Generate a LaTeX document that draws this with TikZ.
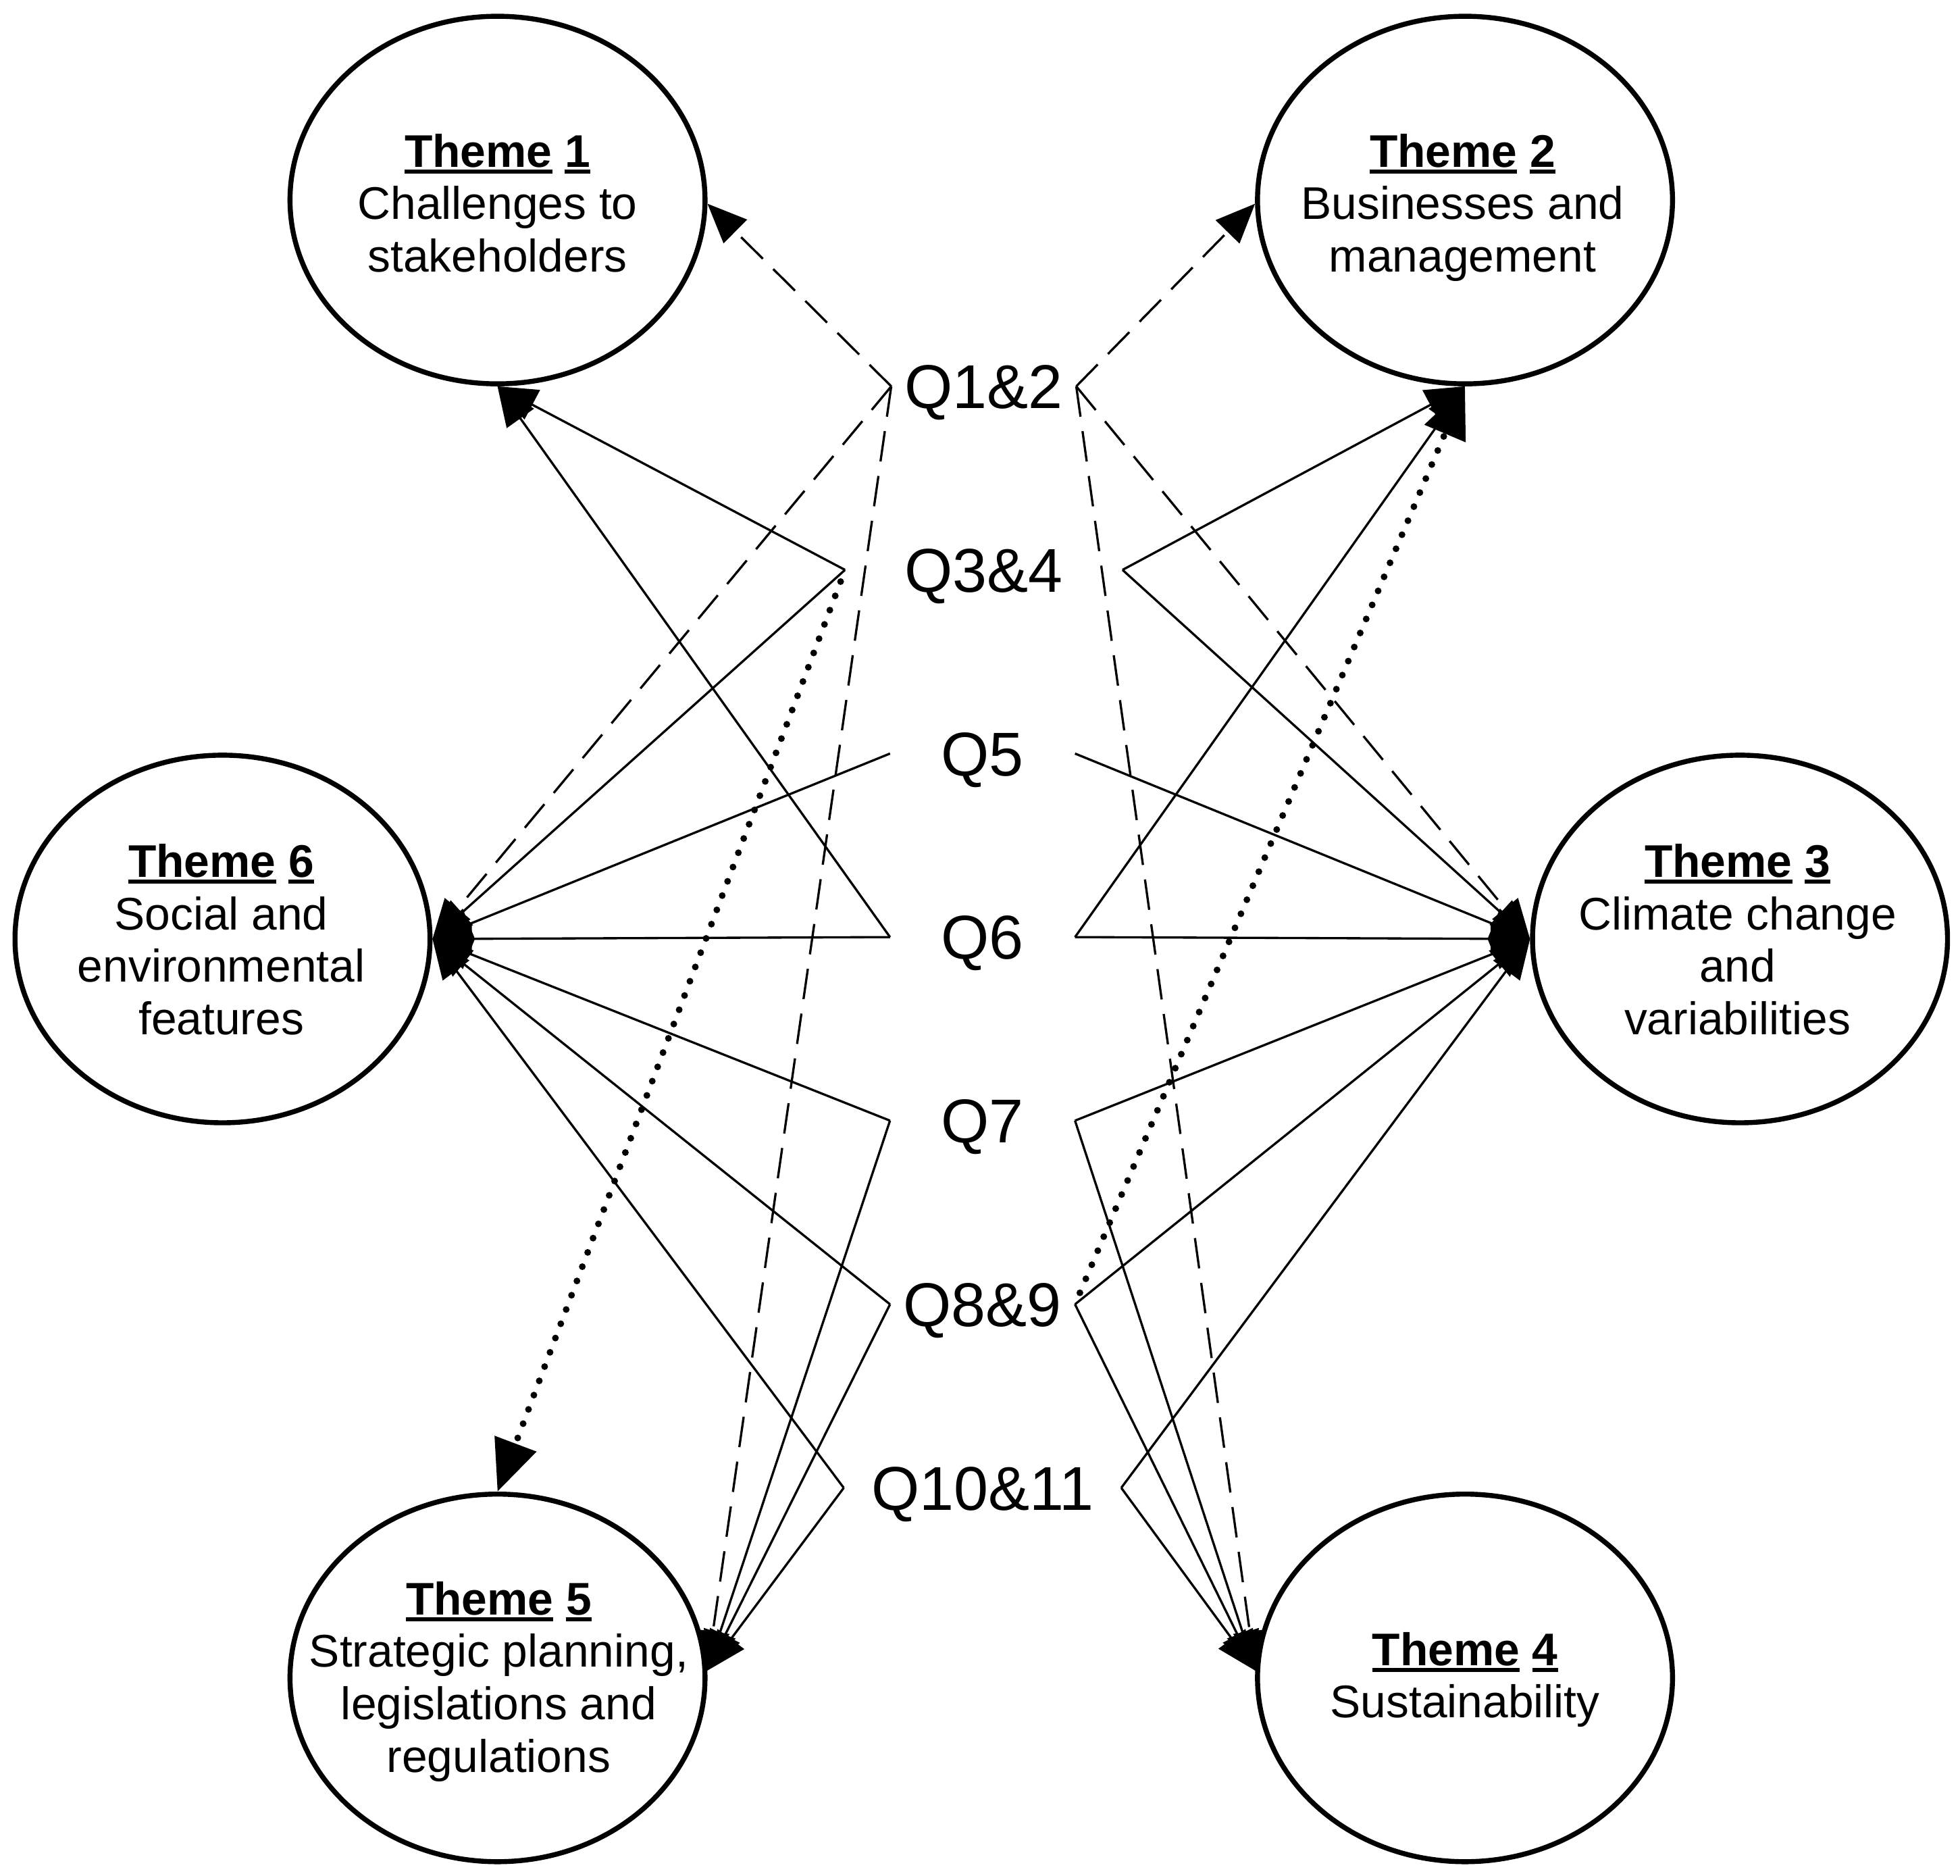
\documentclass[tikz,border=0pt]{standalone}
\usepackage{fontspec}
\setmainfont{Liberation Sans}
\usetikzlibrary{arrows.meta,shapes.geometric}
\newcommand\ulbox[1]{\setbox0\hbox{#1}\rlap{\rule[-2.7pt]{\wd0}{1.7pt}}\box0\relax}
\begin{document}
\begin{tikzpicture}[x=0.5pt,y=-0.5pt,
  theme/.style={ellipse, draw, line width=2pt, minimum width=166pt, minimum height=147pt, inner sep=0pt},
  ttext/.style={font=\fontsize{18.3pt}{21pt}\selectfont, align=center, inner sep=0pt, anchor=north},
  qlab/.style={font=\fontsize{24.75pt}{28pt}\selectfont, inner sep=0pt, outer sep=0pt, text height=17.7pt, text depth=0pt, minimum width=74pt},
  qwide/.style={qlab, minimum width=111pt},
  link/.style={line width=0.9pt, -{Triangle[length=15.75pt,width=13.2pt]}},
  dashlink/.style={link, dash pattern=on 12.25pt off 5.85pt},
  dotlink/.style={line width=2.7pt, line cap=round, dash pattern=on 0pt off 6.1pt, shorten <=5pt, -{Triangle[length=20.5pt,width=17.25pt]}}
]
\fill[white] (0,0) rectangle (1568,1500);
\useasboundingbox (0,0) rectangle (1568,1500);

% theme ellipses
\node[theme] (t1) at (398,160) {};
\node[theme] (t2) at (1172,160) {};
\node[theme] (t6) at (178,751) {};
\node[theme] (t3) at (1392,751) {};
\node[theme] (t5) at (398,1342) {};
\node[theme] (t4) at (1172,1342) {};

% theme texts
\node[ttext] (t1x) at (398,106.6) {\textbf{\ulbox{Theme} \ulbox{1}}\\Challenges to\\stakeholders};
\node[ttext] (t2x) at (1170,106.6) {\textbf{\ulbox{Theme} \ulbox{2}}\\Businesses and\\management};
\node[ttext] (t6x) at (177,674.6) {\textbf{\ulbox{Theme} \ulbox{6}}\\Social and\\environmental\\features};
\node[ttext] (t3x) at (1390,674.6) {\textbf{\ulbox{Theme} \ulbox{3}}\\Climate change\\and\\variabilities};
\node[ttext] (t5x) at (399,1264.5) {\textbf{\ulbox{Theme} \ulbox{5}}\\Strategic planning,\\legislations and\\regulations};
\node[ttext] (t4x) at (1172,1305) {\textbf{\ulbox{Theme} \ulbox{4}}\\Sustainability};

% question labels
\node[qlab] (q12) at (787,309) {Q1\&2};
\node[qwide] (q34) at (787,455.8) {Q3\&4};
\node[qlab] (q5) at (786,602.7) {Q5};
\node[qlab] (q6) at (786,749.5) {Q6};
\node[qlab] (q7) at (786,896.3) {Q7};
\node[qlab] (q89) at (786,1043.2) {Q8\&9};
\node[qwide] (q1011) at (786,1190) {Q10\&11};

% left side connectors
\draw[dashlink] (q12.west) -- (t1.-1);
\draw[dashlink] (q12.west) -- (t6.east);
\draw[dashlink] (q12.west) -- (t5.2);
\draw[link] (q34.west) -- (t1.south);
\draw[link] (q34.west) -- (t6.east);
\draw[dotlink] (q34.west) -- (t5.north);
\draw[link] (q5.west) -- (t6.east);
\draw[link] (q6.west) -- (t1.south);
\draw[link] (q6.west) -- (t6.east);
\draw[link] (q7.west) -- (t6.east);
\draw[link] (q7.west) -- (t5.2);
\draw[link] (q89.west) -- (t6.east);
\draw[link] (q89.west) -- (t5.2);
\draw[link] (q1011.west) -- (t6.east);
\draw[link] (q1011.west) -- (t5.2);

% right side connectors
\draw[dashlink] (q12.east) -- (t2.181);
\draw[dashlink] (q12.east) -- (t3.west);
\draw[dashlink] (q12.east) -- (t4.178);
\draw[link] (q34.east) -- (t2.south);
\draw[link] (q34.east) -- (t3.west);
\draw[link] (q5.east) -- (t3.west);
\draw[link] (q6.east) -- (t2.south);
\draw[link] (q6.east) -- (t3.west);
\draw[link] (q7.east) -- (t3.west);
\draw[link] (q7.east) -- (t4.178);
\draw[dotlink] (q89.east) -- (t2.south);
\draw[link] (q89.east) -- (t3.west);
\draw[link] (q89.east) -- (t4.178);
\draw[link] (q1011.east) -- (t3.west);
\draw[link] (q1011.east) -- (t4.178);
\end{tikzpicture}
\end{document}
